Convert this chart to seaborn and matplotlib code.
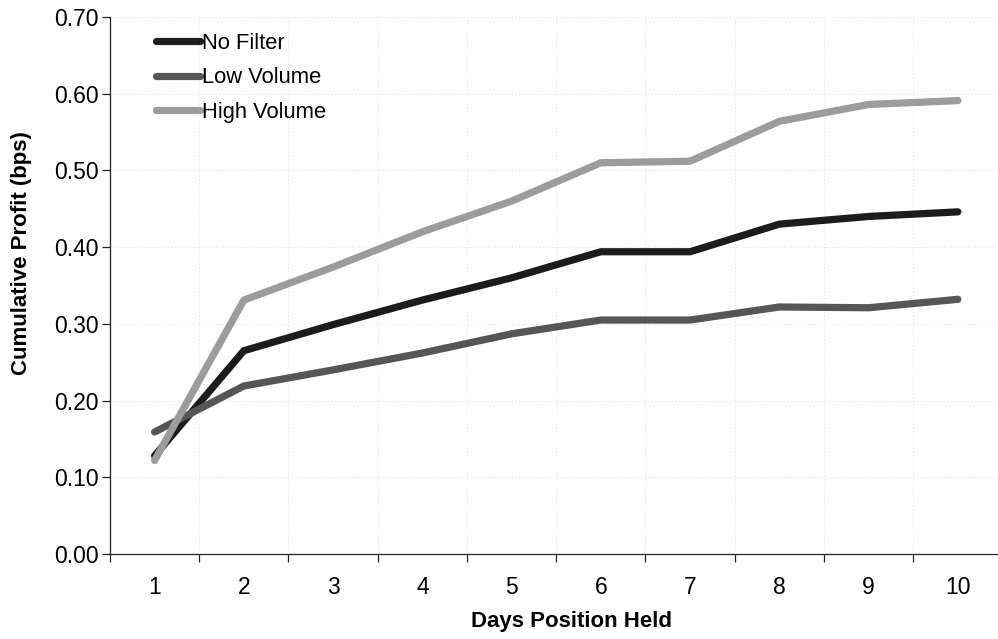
import matplotlib
matplotlib.use("Agg")
import matplotlib.pyplot as plt
import seaborn as sns
import pandas as pd
import numpy as np

days = [1, 2, 3, 4, 5, 6, 7, 8, 9, 10]
no_filter = [0.128, 0.265, 0.299, 0.331, 0.360, 0.394, 0.394, 0.430, 0.440, 0.446]
low_volume = [0.159, 0.219, 0.240, 0.262, 0.287, 0.305, 0.305, 0.322, 0.321, 0.332]
high_volume = [0.122, 0.331, 0.374, 0.420, 0.460, 0.510, 0.512, 0.564, 0.586, 0.591]
series_names = ["No Filter", "Low Volume", "High Volume"]
y_ticks = [0.0, 0.1, 0.2, 0.3, 0.4, 0.5, 0.6, 0.7]

df = pd.DataFrame({
    "Days Position Held": days * 3,
    "Cumulative Profit (bps)": no_filter + low_volume + high_volume,
    "Series": [series_names[0]] * 10 + [series_names[1]] * 10 + [series_names[2]] * 10,
})

sns.set_theme(style="white")
plt.rcParams["font.family"] = ["Liberation Sans", "DejaVu Sans"]
plt.rcParams["text.color"] = "black"
plt.rcParams["axes.labelcolor"] = "black"
plt.rcParams["xtick.color"] = "black"
plt.rcParams["ytick.color"] = "black"

fig = plt.figure(figsize=(9.98, 6.39), dpi=100)
ax = fig.add_axes([0.1102, 0.1330, 0.8898, 0.8404])

palette = {"No Filter": "#1c1c1c", "Low Volume": "#565656", "High Volume": "#9c9c9c"}
sns.lineplot(data=df, x="Days Position Held", y="Cumulative Profit (bps)",
             hue="Series", palette=palette, linewidth=5.2, ax=ax,
             solid_capstyle="round", legend=True)

ax.set_xlim(0.5, 10.45)
ax.set_ylim(0, 0.70)
ax.set_yticks(y_ticks)
ax.set_yticklabels([f"{v:.2f}" for v in y_ticks], fontsize=16.5)
ax.set_xticks(days)
ax.set_xticklabels([str(d) for d in days], fontsize=16.5)
ax.set_xticks(np.arange(0.5, 10.5, 1.0), minor=True)
ax.tick_params(axis="x", which="major", bottom=True, length=0, pad=16)
ax.tick_params(axis="x", which="minor", bottom=True, direction="out",
               length=6, width=0.9, color="#222222")
ax.tick_params(axis="y", left=True, direction="out", length=6, width=0.9,
               color="#222222", pad=2)

# faint dotted grid, Excel style
for v in y_ticks[1:]:
    ax.axhline(v, color="#e0e0e0", lw=0.7, ls=(0, (1, 2.5)), zorder=0)
for v in np.arange(1.5, 10.5, 1.0):
    ax.axvline(v, color="#e0e0e0", lw=0.7, ls=(0, (1, 2.5)), zorder=0)

for side in ["top", "right"]:
    ax.spines[side].set_visible(False)
for side in ["left", "bottom"]:
    ax.spines[side].set_color("#222222")
    ax.spines[side].set_linewidth(0.9)

ax.set_xlabel("Days Position Held", fontsize=16, fontweight="bold")
ax.set_ylabel("Cumulative Profit (bps)", fontsize=16, fontweight="bold")
ax.xaxis.set_label_coords(0.52, -0.106)
ax.yaxis.set_label_coords(-0.088, 0.56)

leg = ax.legend(loc="upper left", bbox_to_anchor=(0.037, 0.995), frameon=False,
                fontsize=15.8, handlelength=2.0, handletextpad=0.1,
                labelspacing=0.62, borderaxespad=0.2)
for line in leg.get_lines():
    line.set_linewidth(5.2)
    line.set_solid_capstyle("round")

fig.savefig("out.png", dpi=100, facecolor="white")
